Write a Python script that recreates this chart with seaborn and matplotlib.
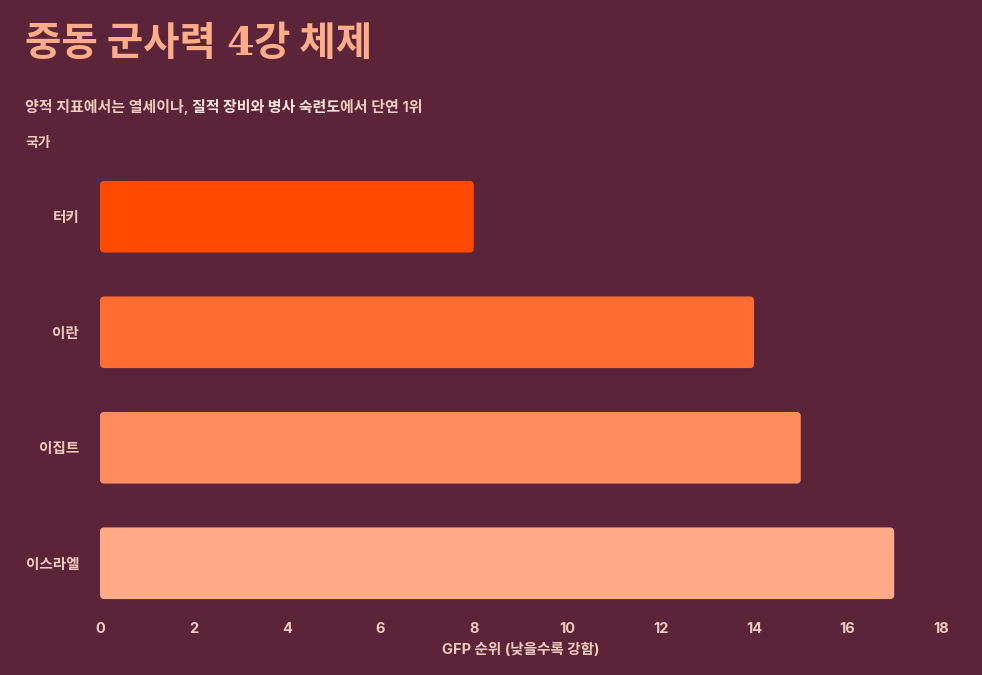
import matplotlib
matplotlib.use("Agg")
import matplotlib.pyplot as plt
import seaborn as sns
import pandas as pd
from matplotlib.patches import FancyBboxPatch

countries = ["터키", "이란", "이집트", "이스라엘"]
gfp_rank = [8, 14, 15, 17]
bar_colors = ["#FF4A00", "#FF6D30", "#FF8C5F", "#FFAB88"]
x_ticks = [0, 2, 4, 6, 8, 10, 12, 14, 16, 18]

title_parts = [("중동 군사력 ", "sans"), ("4", "serif"), ("강 체제", "sans")]
subtitle_parts = [("양적 지표에서는 열세이나, ", False), ("질적 장비와 병사 숙련도", True), ("에서 단연 1위", False)]

BG = "#5B2439"
TXT = "#F3CBBE"
TITLE_C = "#FFAC8A"

sns.set_theme(style="white")
plt.rcParams["font.family"] = ["Inter", "Noto Sans CJK KR", "DejaVu Sans"]

df = pd.DataFrame({"country": countries, "rank": gfp_rank})

fig = plt.figure(figsize=(9.82, 6.75), dpi=100, facecolor=BG)
ax = fig.add_axes([0.1018, 0.08, 0.8564, 0.6844])
ax.set_facecolor(BG)

sns.barplot(data=df, x="rank", y="country", hue="country", palette=bar_colors,
            orient="h", width=0.62, saturation=1, legend=False, ax=ax)

# swap plain bars for rounded ones
for p in list(ax.patches):
    x0, y0, w, h = p.get_x(), p.get_y(), p.get_width(), p.get_height()
    fc = p.get_facecolor()
    p.remove()
    ax.add_patch(FancyBboxPatch((x0, y0), w, h,
                                boxstyle="round,pad=0,rounding_size=0.09",
                                mutation_aspect=0.42, fc=fc, ec="none"))

ax.set_xlim(0, 18)
ax.set_ylim(3.5, -0.5)
ax.set_xticks(x_ticks)
ax.set_xticklabels([str(t) for t in x_ticks])
for s in ax.spines.values():
    s.set_visible(False)
ax.tick_params(axis="both", length=0, colors=TXT, labelsize=10.5)
ax.tick_params(axis="y", pad=15)
ax.tick_params(axis="x", pad=1)
for lab in ax.get_xticklabels() + ax.get_yticklabels():
    lab.set_fontweight("bold")
ax.set_ylabel("")
ax.set_xlabel("GFP 순위 (낮을수록 강함)", color=TXT, fontsize=10.5,
              fontweight="bold", labelpad=5)

# title and subtitle pieces laid out one after another
fig.canvas.draw()
r = fig.canvas.get_renderer()
x = 25
for txt, kind in title_parts:
    fam = ["DejaVu Serif"] if kind == "serif" else ["Noto Sans CJK KR"]
    t = fig.text(x / 982, 1 - 55 / 675, txt, color=TITLE_C, fontsize=28.5,
                 fontweight="bold", family=fam, va="baseline")
    x = t.get_window_extent(r).x1 + (2 if txt.endswith(" ") else 0)

x = 25
for txt, bold in subtitle_parts:
    t = fig.text(x / 982, 1 - 112 / 675, txt,
                 color="#FFE3DA" if bold else TXT, fontsize=10.8,
                 fontweight="bold" if bold else "semibold",
                 family=["Inter", "Noto Sans CJK KR"], va="baseline")
    x = t.get_window_extent(r).x1

fig.text(25 / 982, 1 - 147 / 675, "국가", color=TXT, fontsize=10,
         fontweight="bold", va="baseline")

fig.savefig("out.png", dpi=100, facecolor=BG)
